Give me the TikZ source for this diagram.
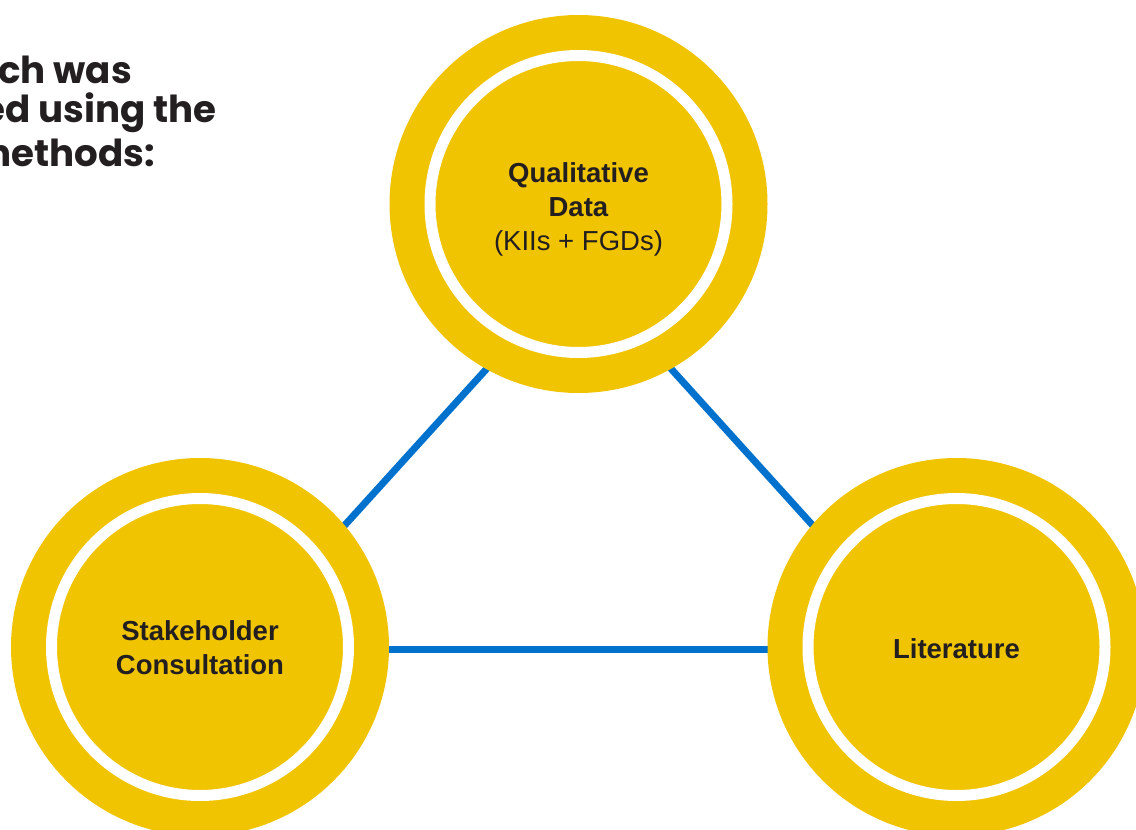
\documentclass[tikz,border=0pt]{standalone}
\usepackage{fontspec}
\setmainfont{Liberation Sans}
\newfontfamily\popfont{Poppins}[BoldFont={* Bold}]
\definecolor{ringyellow}{HTML}{F0C400}
\definecolor{lineblue}{HTML}{0072CE}
\definecolor{inktext}{HTML}{231F20}
\begin{document}
\begin{tikzpicture}[x=1pt,y=-1pt,
  outerdisc/.style={circle, fill=ringyellow, minimum size=378pt, inner sep=0pt},
  disctext/.style={text=inktext, align=center, inner sep=0pt,
    font=\fontsize{27.5}{34}\selectfont},
  whitering/.style={draw=white, line width=11pt},
  link/.style={draw=lineblue, line width=7pt},
  headline/.style={anchor=base east, inner sep=0pt, text=inktext,
    font=\popfont\bfseries\fontsize{37.2}{42}\selectfont}]
\useasboundingbox (0,0) rectangle (1136,830);
% triangle of links behind the discs
\coordinate (apex) at (579,267);
\coordinate (lcorner) at (232,649.5);
\coordinate (rcorner) at (925,649.5);
\draw[link] (apex) -- (lcorner);
\draw[link] (apex) -- (rcorner);
\draw[link] (lcorner) -- (rcorner);
% discs
\node[outerdisc] (qual) at (578.5,204) {};
\node[outerdisc] (stake) at (200,647) {};
\node[outerdisc] (lit) at (956.5,647) {};
\foreach \n in {qual,stake,lit}{
  \draw[whitering] (\n.center) circle (148.5);
}
\node[disctext] (qualtext) at ([yshift=-5pt]qual.center) {\textbf{Qualitative}\\\textbf{Data}\\(KIIs + FGDs)};
\node[disctext] (staketext) at ([yshift=-1pt]stake.center) {\textbf{Stakeholder}\\\textbf{Consultation}};
\node[disctext] (littext) at ([yshift=-2pt]lit.center) {\textbf{Literature}};
% heading fragment
\node[headline] (h1) at (132,83) {ch was};
\node[headline] (h2) at (217,122) {ed using the};
\node[headline] (h3) at (155,166.5) {nethods:};
\end{tikzpicture}
\end{document}
